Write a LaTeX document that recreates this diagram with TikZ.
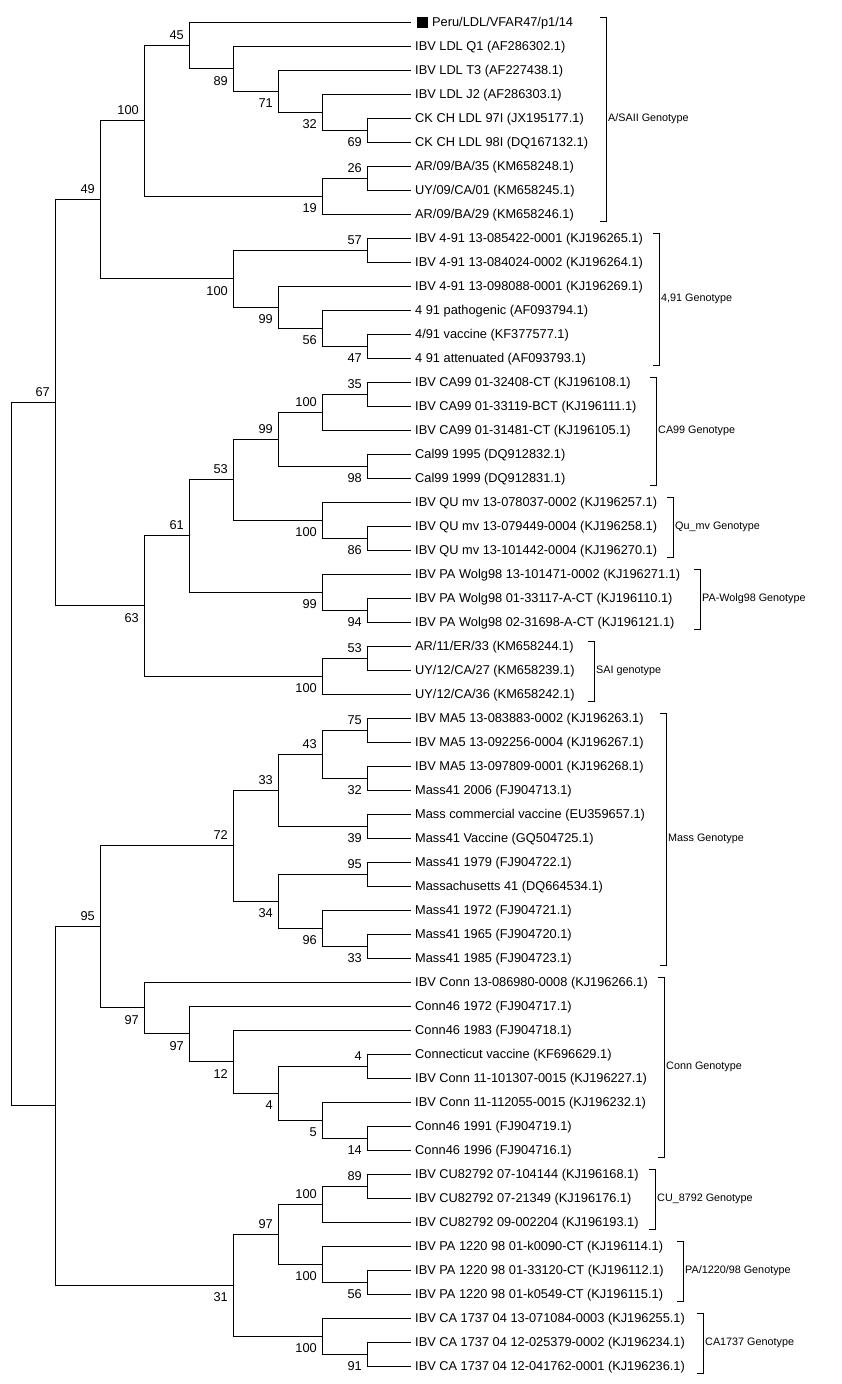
\documentclass[tikz,border=0pt]{standalone}
\usepackage{fontspec}
\setmainfont{Liberation Sans}
\newcommand\leafnode[2]{\coordinate (l#1) at (411,{22+24*#1}); \node[leaftext] (t#1) at (415,{26+24*#1}) {#2};}
\newcommand\kid[2]{\draw[edge] (#1) |- (#2);}
\newcommand\bsup[2]{\node[bs] (b#1) at ([xshift=-5pt,yshift=6pt]#1) {#2};}
\newcommand\bsdn[2]{\node[bs] (b#1) at ([xshift=-5pt,yshift=-16.5pt]#1) {#2};}
\newcommand\gbr[5]{\draw[br] ({#2-6},{17+24*#3}) -- (#2,{17+24*#3}) -- (#2,{29+24*#4}) -- ({#2-6},{29+24*#4}); \node[geno] (#1) at ({#2+2},{25.5+12*(#3+#4)}) {#5};}
\begin{document}
\begin{tikzpicture}[x=1pt,y=-1pt,
  edge/.style={line width=1pt},
  br/.style={line width=1pt},
  leaftext/.style={anchor=base west, inner sep=0pt, font=\fontsize{12.8}{15}\selectfont},
  bs/.style={anchor=base east, inner sep=0pt, font=\fontsize{12.8}{15}\selectfont},
  geno/.style={anchor=base west, inner sep=0pt, font=\fontsize{10.8}{13}\selectfont}]
\useasboundingbox[fill=white] (0,0) rectangle (842,1384);
% leaves
\coordinate (l0) at (411,22);
\node[fill=black, minimum width=11pt, minimum height=11pt, inner sep=0pt] (sq) at (422,22) {};
\node[leaftext] (t0) at (432,26) {Peru/LDL/VFAR47/p1/14};
\leafnode{1}{IBV LDL Q1 (AF286302.1)}
\leafnode{2}{IBV LDL T3 (AF227438.1)}
\leafnode{3}{IBV LDL J2 (AF286303.1)}
\leafnode{4}{CK CH LDL 97I (JX195177.1)}
\leafnode{5}{CK CH LDL 98I (DQ167132.1)}
\leafnode{6}{AR/09/BA/35 (KM658248.1)}
\leafnode{7}{UY/09/CA/01 (KM658245.1)}
\leafnode{8}{AR/09/BA/29 (KM658246.1)}
\leafnode{9}{IBV 4-91 13-085422-0001 (KJ196265.1)}
\leafnode{10}{IBV 4-91 13-084024-0002 (KJ196264.1)}
\leafnode{11}{IBV 4-91 13-098088-0001 (KJ196269.1)}
\leafnode{12}{4 91 pathogenic (AF093794.1)}
\leafnode{13}{4/91 vaccine (KF377577.1)}
\leafnode{14}{4 91 attenuated (AF093793.1)}
\leafnode{15}{IBV CA99 01-32408-CT (KJ196108.1)}
\leafnode{16}{IBV CA99 01-33119-BCT (KJ196111.1)}
\leafnode{17}{IBV CA99 01-31481-CT (KJ196105.1)}
\leafnode{18}{Cal99 1995 (DQ912832.1)}
\leafnode{19}{Cal99 1999 (DQ912831.1)}
\leafnode{20}{IBV QU mv 13-078037-0002 (KJ196257.1)}
\leafnode{21}{IBV QU mv 13-079449-0004 (KJ196258.1)}
\leafnode{22}{IBV QU mv 13-101442-0004 (KJ196270.1)}
\leafnode{23}{IBV PA Wolg98 13-101471-0002 (KJ196271.1)}
\leafnode{24}{IBV PA Wolg98 01-33117-A-CT (KJ196110.1)}
\leafnode{25}{IBV PA Wolg98 02-31698-A-CT (KJ196121.1)}
\leafnode{26}{AR/11/ER/33 (KM658244.1)}
\leafnode{27}{UY/12/CA/27 (KM658239.1)}
\leafnode{28}{UY/12/CA/36 (KM658242.1)}
\leafnode{29}{IBV MA5 13-083883-0002 (KJ196263.1)}
\leafnode{30}{IBV MA5 13-092256-0004 (KJ196267.1)}
\leafnode{31}{IBV MA5 13-097809-0001 (KJ196268.1)}
\leafnode{32}{Mass41 2006 (FJ904713.1)}
\leafnode{33}{Mass commercial vaccine (EU359657.1)}
\leafnode{34}{Mass41 Vaccine (GQ504725.1)}
\leafnode{35}{Mass41 1979 (FJ904722.1)}
\leafnode{36}{Massachusetts 41 (DQ664534.1)}
\leafnode{37}{Mass41 1972 (FJ904721.1)}
\leafnode{38}{Mass41 1965 (FJ904720.1)}
\leafnode{39}{Mass41 1985 (FJ904723.1)}
\leafnode{40}{IBV Conn 13-086980-0008 (KJ196266.1)}
\leafnode{41}{Conn46 1972 (FJ904717.1)}
\leafnode{42}{Conn46 1983 (FJ904718.1)}
\leafnode{43}{Connecticut vaccine (KF696629.1)}
\leafnode{44}{IBV Conn 11-101307-0015 (KJ196227.1)}
\leafnode{45}{IBV Conn 11-112055-0015 (KJ196232.1)}
\leafnode{46}{Conn46 1991 (FJ904719.1)}
\leafnode{47}{Conn46 1996 (FJ904716.1)}
\leafnode{48}{IBV CU82792 07-104144 (KJ196168.1)}
\leafnode{49}{IBV CU82792 07-21349 (KJ196176.1)}
\leafnode{50}{IBV CU82792 09-002204 (KJ196193.1)}
\leafnode{51}{IBV PA 1220 98 01-k0090-CT (KJ196114.1)}
\leafnode{52}{IBV PA 1220 98 01-33120-CT (KJ196112.1)}
\leafnode{53}{IBV PA 1220 98 01-k0549-CT (KJ196115.1)}
\leafnode{54}{IBV CA 1737 04 13-071084-0003 (KJ196255.1)}
\leafnode{55}{IBV CA 1737 04 12-025379-0002 (KJ196234.1)}
\leafnode{56}{IBV CA 1737 04 12-041762-0001 (KJ196236.1)}
% internal nodes
\coordinate (n69) at (367,130);
\coordinate (n32a) at (322,112);
\coordinate (n71) at (278,91);
\coordinate (n89) at (233,68.5);
\coordinate (n45) at (189,45.25);
\coordinate (n26) at (367,178);
\coordinate (n19) at (322,196);
\coordinate (n100a) at (144,120.625);
\coordinate (n57) at (367,250);
\coordinate (n47) at (367,346);
\coordinate (n56) at (322,328);
\coordinate (n99a) at (278,307);
\coordinate (n100b) at (233,278.5);
\coordinate (n49) at (100,199.56);
\coordinate (n35) at (367,394);
\coordinate (n100e) at (322,412);
\coordinate (n98) at (367,466);
\coordinate (n99c) at (278,439);
\coordinate (n86) at (367,538);
\coordinate (n100d) at (322,520);
\coordinate (n53a) at (233,479.5);
\coordinate (n94) at (367,610);
\coordinate (n99b) at (322,592);
\coordinate (n61) at (189,535.75);
\coordinate (n53b) at (367,658);
\coordinate (n100c) at (322,676);
\coordinate (n63) at (144,605.9);
\coordinate (n67) at (55,402.7);
\coordinate (n75) at (367,730);
\coordinate (n32b) at (367,778);
\coordinate (n43) at (322,754);
\coordinate (n39) at (367,826);
\coordinate (n33) at (278,790);
\coordinate (n95b) at (367,874);
\coordinate (n33b) at (367,946);
\coordinate (n96) at (322,928);
\coordinate (n34) at (278,901);
\coordinate (n72) at (233,845.5);
\coordinate (n4b) at (367,1066);
\coordinate (n14) at (367,1138);
\coordinate (n5) at (322,1120);
\coordinate (n4a) at (278,1093);
\coordinate (n12) at (233,1061.5);
\coordinate (n97b) at (189,1033.75);
\coordinate (n97a) at (144,1007.9);
\coordinate (n95) at (100,926.7);
\coordinate (n89b) at (367,1186);
\coordinate (n100f) at (322,1204);
\coordinate (n56b) at (367,1282);
\coordinate (n100g) at (322,1264);
\coordinate (n97c) at (278,1234);
\coordinate (n91) at (367,1354);
\coordinate (n100h) at (322,1336);
\coordinate (n31) at (233,1285);
\coordinate (nlow) at (55,1105.8);
\coordinate (root) at (11,754.3);
% edges
\kid{root}{n67}\kid{root}{nlow}
\kid{n67}{n49}\kid{n67}{n63}
\kid{n49}{n100a}\kid{n49}{n100b}
\kid{n100a}{n45}\kid{n100a}{n19}
\kid{n45}{l0}\kid{n45}{n89}
\kid{n89}{l1}\kid{n89}{n71}
\kid{n71}{l2}\kid{n71}{n32a}
\kid{n32a}{l3}\kid{n32a}{n69}
\kid{n69}{l4}\kid{n69}{l5}
\kid{n19}{n26}\kid{n19}{l8}
\kid{n26}{l6}\kid{n26}{l7}
\kid{n100b}{n57}\kid{n100b}{n99a}
\kid{n57}{l9}\kid{n57}{l10}
\kid{n99a}{l11}\kid{n99a}{n56}
\kid{n56}{l12}\kid{n56}{n47}
\kid{n47}{l13}\kid{n47}{l14}
\kid{n63}{n61}\kid{n63}{n100c}
\kid{n61}{n53a}\kid{n61}{n99b}
\kid{n53a}{n99c}\kid{n53a}{n100d}
\kid{n99c}{n100e}\kid{n99c}{n98}
\kid{n100e}{n35}\kid{n100e}{l17}
\kid{n35}{l15}\kid{n35}{l16}
\kid{n98}{l18}\kid{n98}{l19}
\kid{n100d}{l20}\kid{n100d}{n86}
\kid{n86}{l21}\kid{n86}{l22}
\kid{n99b}{l23}\kid{n99b}{n94}
\kid{n94}{l24}\kid{n94}{l25}
\kid{n100c}{n53b}\kid{n100c}{l28}
\kid{n53b}{l26}\kid{n53b}{l27}
\kid{nlow}{n95}\kid{nlow}{n31}
\kid{n95}{n72}\kid{n95}{n97a}
\kid{n72}{n33}\kid{n72}{n34}
\kid{n33}{n43}\kid{n33}{n39}
\kid{n43}{n75}\kid{n43}{n32b}
\kid{n75}{l29}\kid{n75}{l30}
\kid{n32b}{l31}\kid{n32b}{l32}
\kid{n39}{l33}\kid{n39}{l34}
\kid{n34}{n95b}\kid{n34}{n96}
\kid{n95b}{l35}\kid{n95b}{l36}
\kid{n96}{l37}\kid{n96}{n33b}
\kid{n33b}{l38}\kid{n33b}{l39}
\kid{n97a}{l40}\kid{n97a}{n97b}
\kid{n97b}{l41}\kid{n97b}{n12}
\kid{n12}{l42}\kid{n12}{n4a}
\kid{n4a}{n4b}\kid{n4a}{n5}
\kid{n4b}{l43}\kid{n4b}{l44}
\kid{n5}{l45}\kid{n5}{n14}
\kid{n14}{l46}\kid{n14}{l47}
\kid{n31}{n97c}\kid{n31}{n100h}
\kid{n97c}{n100f}\kid{n97c}{n100g}
\kid{n100f}{n89b}\kid{n100f}{l50}
\kid{n89b}{l48}\kid{n89b}{l49}
\kid{n100g}{l51}\kid{n100g}{n56b}
\kid{n56b}{l52}\kid{n56b}{l53}
\kid{n100h}{l54}\kid{n100h}{n91}
\kid{n91}{l55}\kid{n91}{l56}
% bootstrap values
\bsup{n67}{67}
\bsup{n49}{49}\bsdn{n63}{63}
\bsup{n100a}{100}\bsdn{n100b}{100}
\bsup{n45}{45}\bsdn{n19}{19}
\bsdn{n89}{89}\bsdn{n71}{71}\bsdn{n32a}{32}\bsdn{n69}{69}
\bsup{n26}{26}
\bsup{n57}{57}\bsdn{n99a}{99}\bsdn{n56}{56}\bsdn{n47}{47}
\bsup{n61}{61}\bsdn{n100c}{100}
\bsup{n53a}{53}\bsdn{n99b}{99}
\bsup{n99c}{99}\bsdn{n100d}{100}
\bsup{n100e}{100}\bsdn{n98}{98}
\bsup{n35}{35}\bsdn{n86}{86}\bsdn{n94}{94}\bsup{n53b}{53}
\bsup{n95}{95}\bsdn{n31}{31}
\bsup{n72}{72}\bsdn{n97a}{97}
\bsup{n33}{33}\bsdn{n34}{34}
\bsup{n43}{43}\bsdn{n39}{39}
\bsup{n75}{75}\bsdn{n32b}{32}
\bsup{n95b}{95}\bsdn{n96}{96}\bsdn{n33b}{33}
\bsdn{n97b}{97}\bsdn{n12}{12}\bsdn{n4a}{4}
\bsup{n4b}{4}\bsdn{n5}{5}\bsdn{n14}{14}
\bsup{n97c}{97}\bsdn{n100h}{100}
\bsup{n100f}{100}\bsdn{n100g}{100}
\bsup{n89b}{89}\bsdn{n56b}{56}\bsdn{n91}{91}
% genotype brackets
\gbr{gA}{606}{0}{8}{A/SAII Genotype}
\gbr{gB}{659}{9}{14}{4,91 Genotype}
\gbr{gC}{656}{15}{19}{CA99 Genotype}
\gbr{gD}{673}{20}{22}{Qu\_mv Genotype}
\gbr{gE}{700}{23}{25}{PA-Wolg98 Genotype}
\gbr{gF}{594}{26}{28}{SAI genotype}
\gbr{gG}{666}{29}{39}{Mass Genotype}
\gbr{gH}{664}{40}{47}{Conn Genotype}
\gbr{gI}{655}{48}{50}{CU\_8792 Genotype}
\gbr{gJ}{683}{51}{53}{PA/1220/98 Genotype}
\gbr{gK}{703}{54}{56}{CA1737 Genotype}
\end{tikzpicture}
\end{document}
